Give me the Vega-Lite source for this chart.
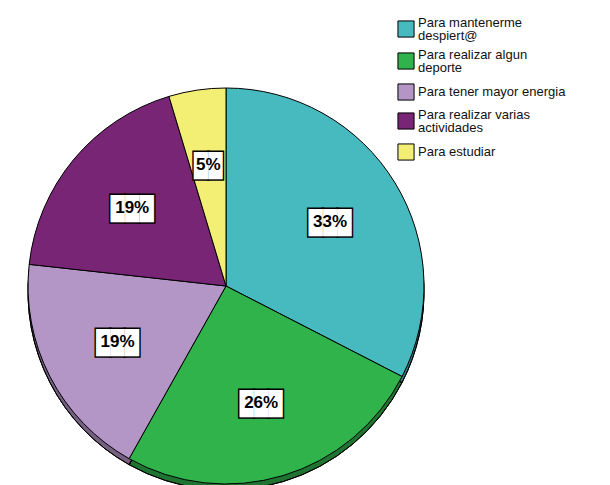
{
  "$schema": "https://vega.github.io/schema/vega-lite/v6.json",
  "width": 610,
  "height": 485,
  "padding": 0,
  "autosize": "none",
  "background": "white",
  "config": {"view": {"stroke": null}, "font": "Liberation Sans"},
  "data": {"values": [
    {"motivo": "Para mantenerme despiert@", "n": 14, "pct": "33%", "orden": 1},
    {"motivo": "Para realizar algun deporte", "n": 11, "pct": "26%", "orden": 2},
    {"motivo": "Para tener  mayor energia", "n": 8, "pct": "19%", "orden": 3},
    {"motivo": "Para realizar varias actividades", "n": 8, "pct": "19%", "orden": 4},
    {"motivo": "Para estudiar", "n": 2, "pct": "5%", "orden": 5}
  ]},
  "encoding": {
    "theta": {"field": "n", "type": "quantitative", "stack": true},
    "order": {"field": "orden", "type": "quantitative"}
  },
  "layer": [
    {
      "mark": {"type": "arc", "x": 226, "y": 292, "radius": 198, "stroke": "black", "strokeWidth": 1},
      "encoding": {
        "color": {"field": "motivo", "type": "nominal",
          "scale": {"domain": ["Para mantenerme despiert@", "Para realizar algun deporte", "Para tener  mayor energia", "Para realizar varias actividades", "Para estudiar"],
                    "range": ["#47BABF", "#2FB34A", "#B396C6", "#782575", "#F3EE74"]},
          "legend": {
            "title": null,
            "orient": "none",
            "legendX": 397,
            "legendY": 20,
            "symbolType": "square",
            "symbolSize": 260,
            "symbolStrokeColor": "black",
            "symbolStrokeWidth": 1,
            "symbolOpacity": 1,
            "labelFont": "Liberation Sans",
            "labelFontSize": 13,
            "labelColor": "#111111",
            "labelLimit": 300,
            "labelOffset": 3,
            "rowPadding": 6,
            "labelExpr": "datum.label == 'Para mantenerme despiert@' ? ['Para mantenerme', 'despiert@'] : datum.label == 'Para realizar algun deporte' ? ['Para realizar algun', 'deporte'] : datum.label == 'Para realizar varias actividades' ? ['Para realizar varias', 'actividades'] : datum.label",
            "encode": {"labels": {"update": {"lineHeight": {"value": 13}, "dy": {"signal": "indexof(['Para mantenerme despiert@', 'Para realizar algun deporte', 'Para realizar varias actividades'], datum.value) >= 0 ? -6 : 0"}}}}
          }
        }
      }
    },
    {
      "mark": {"type": "arc", "x": 226, "y": 292, "radius": 198, "fill": "black", "fillOpacity": 0.35, "stroke": "black", "strokeWidth": 1},
      "encoding": {}
    },
    {
      "mark": {"type": "arc", "x": 226, "y": 286, "radius": 198, "stroke": "black", "strokeWidth": 1},
      "encoding": {
        "color": {"field": "motivo", "type": "nominal"}
      }
    },
    {
      "mark": {"type": "text", "x": 226, "y": 286, "fontSize": 24, "font": "Liberation Mono", "fill": "white", "stroke": "black", "strokeWidth": 3},
      "encoding": {
        "radius": {"value": 122},
        "text": {"condition": {"test": "datum.n < 5", "value": "██"}, "value": "███"}
      }
    },
    {
      "mark": {"type": "text", "x": 226, "y": 286, "fontSize": 24, "font": "Liberation Mono", "fill": "white"},
      "encoding": {
        "radius": {"value": 122},
        "text": {"condition": {"test": "datum.n < 5", "value": "██"}, "value": "███"}
      }
    },
    {
      "mark": {"type": "text", "x": 226, "y": 286, "fontSize": 17, "fontWeight": "bold", "font": "Liberation Sans", "color": "black"},
      "encoding": {
        "radius": {"value": 122},
        "text": {"field": "pct", "type": "nominal"}
      }
    }
  ]
}
